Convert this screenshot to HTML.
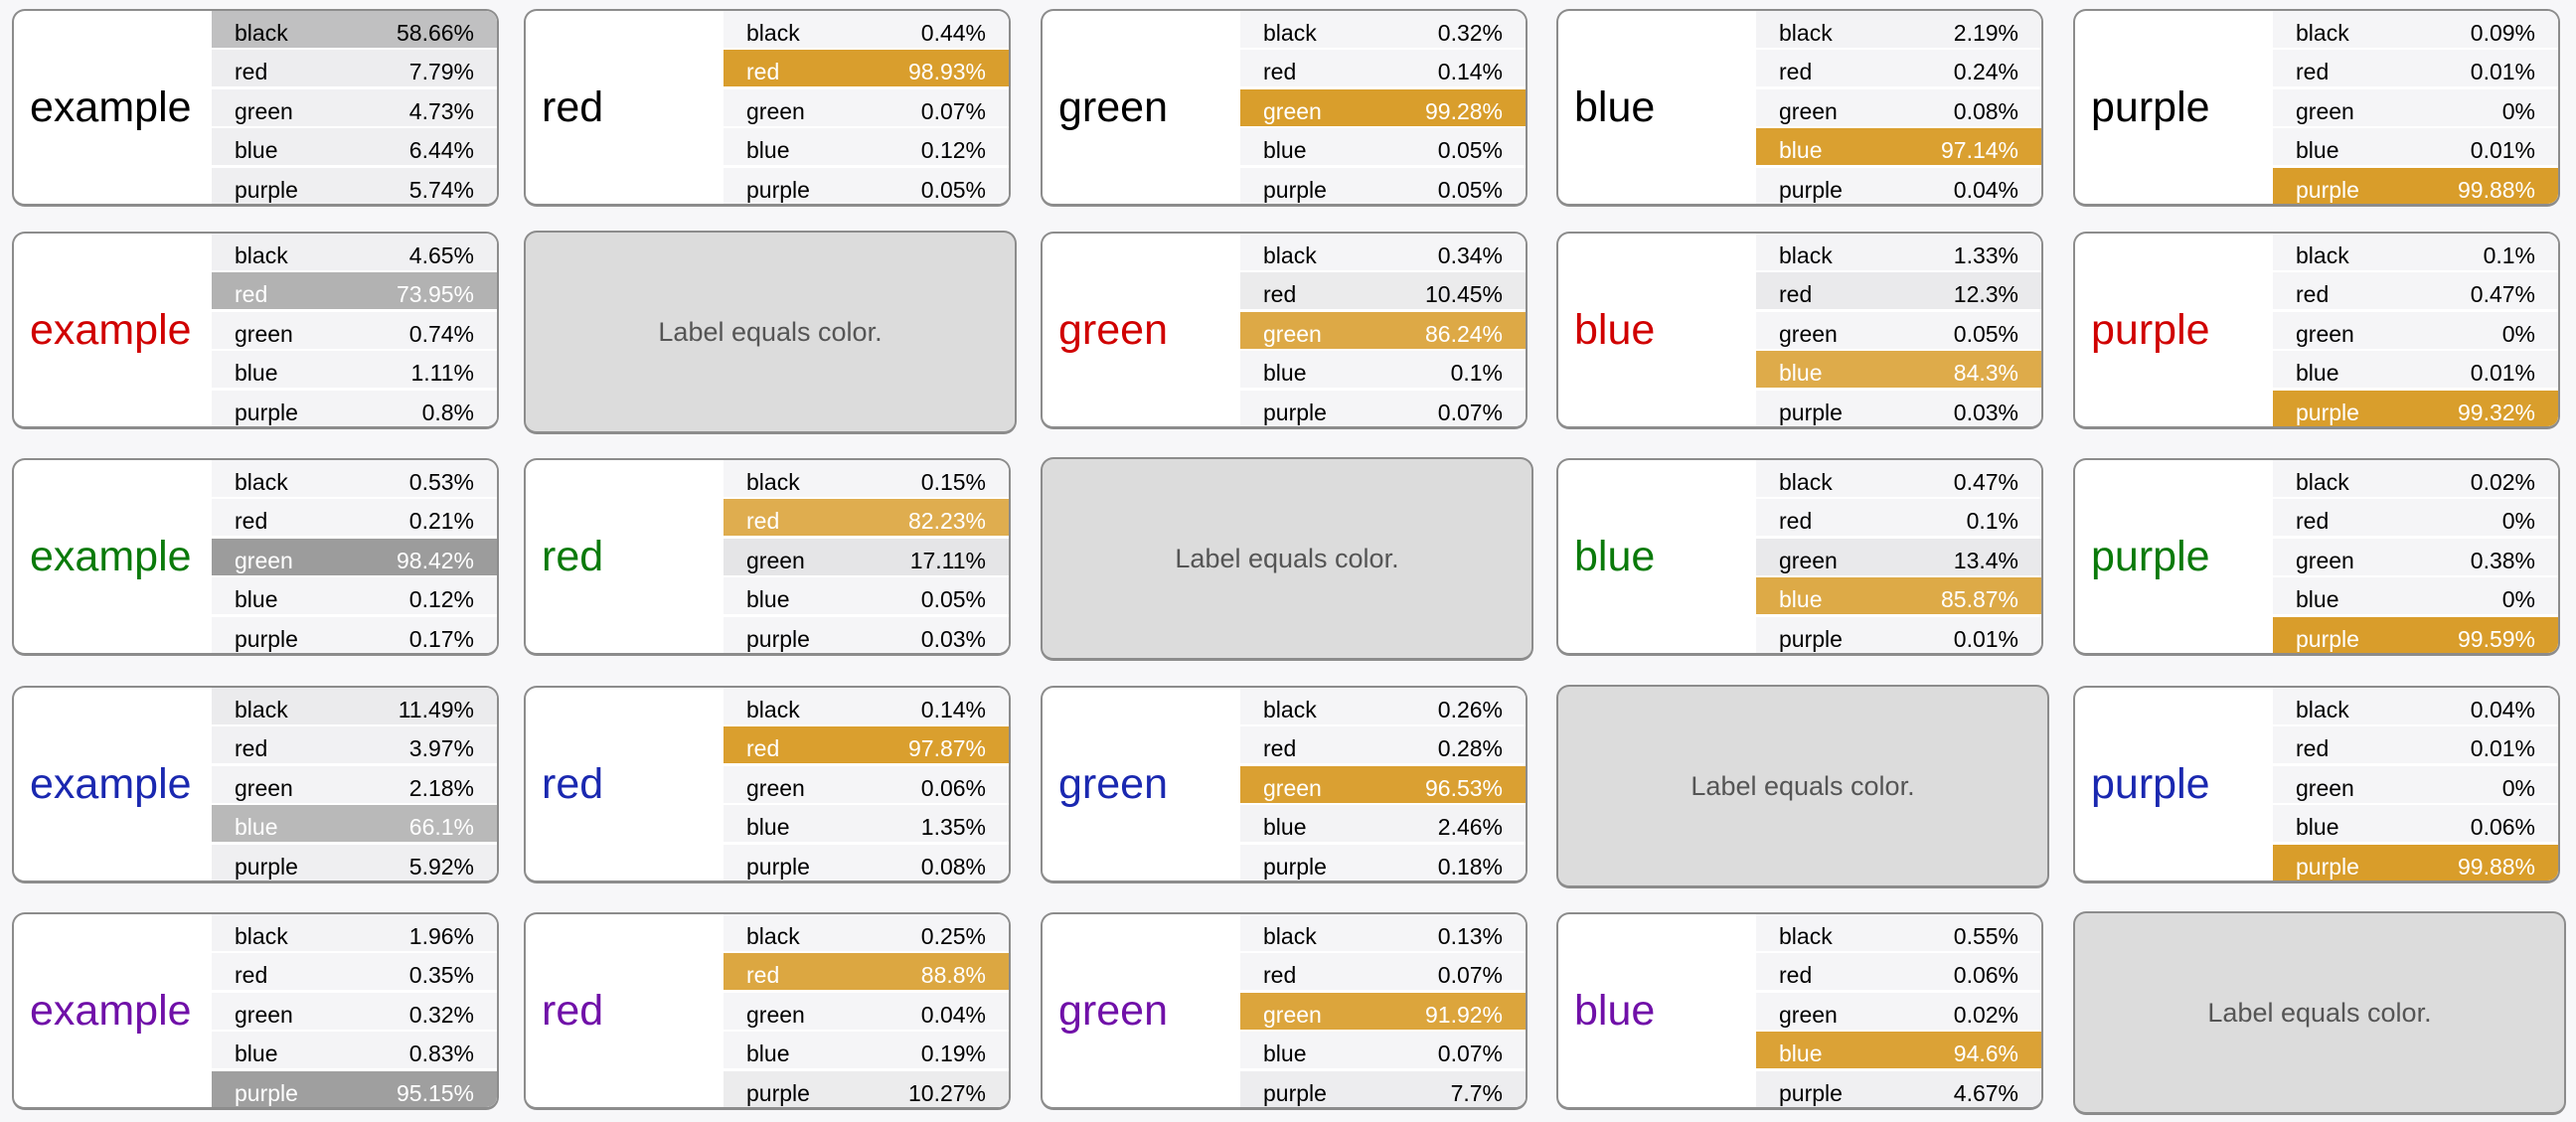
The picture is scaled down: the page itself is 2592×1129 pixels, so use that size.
<!DOCTYPE html>
<html><head><meta charset="utf-8"><style>
html,body{margin:0;padding:0;}
body{width:2592px;height:1129px;background:#f7f7f9;position:relative;overflow:hidden;font-family:"Liberation Sans",sans-serif;}
.card{position:absolute;width:490px;height:199px;box-sizing:border-box;border:2px solid #8c8c8c;border-bottom-width:3px;border-radius:13px;background:#fff;overflow:hidden;}
.lab{position:absolute;left:0;top:0;width:199px;height:100%;display:flex;align-items:center;padding-left:16px;box-sizing:border-box;font-size:43px;}
.tbl{position:absolute;left:199px;top:0;right:0;bottom:0;background:#fff;}
.row{position:absolute;left:0;right:0;height:37px;background:#f5f5f7;font-size:23px;}
.row .bg{position:absolute;inset:0;}
.row .n{position:absolute;left:23px;top:9px;}
.row .v{position:absolute;right:23px;top:9px;}
.gray{position:absolute;width:496px;height:205px;box-sizing:border-box;border:2px solid #8c8c8c;border-bottom-width:3px;border-radius:13px;background:#dcdcdc;color:#555;font-size:27px;display:flex;align-items:center;justify-content:center;}
</style></head><body>
<script>
const labels = ["example","red","green","blue","purple"];
const classes = ["black","red","green","blue","purple"];
const rowColors = ["#000000","#d00000","#0a7a0a","#1a28b0","#7010a8"];
const row1 = [[58.66,7.79,4.73,6.44,5.74],[0.44,98.93,0.07,0.12,0.05],[0.32,0.14,99.28,0.05,0.05],[2.19,0.24,0.08,97.14,0.04],[0.09,0.01,0,0.01,99.88]];
const row2 = [[4.65,73.95,0.74,1.11,0.8],null,[0.34,10.45,86.24,0.1,0.07],[1.33,12.3,0.05,84.3,0.03],[0.1,0.47,0,0.01,99.32]];
const row3 = [[0.53,0.21,98.42,0.12,0.17],[0.15,82.23,17.11,0.05,0.03],null,[0.47,0.1,13.4,85.87,0.01],[0.02,0,0.38,0,99.59]];
const row4 = [[11.49,3.97,2.18,66.1,5.92],[0.14,97.87,0.06,1.35,0.08],[0.26,0.28,96.53,2.46,0.18],null,[0.04,0.01,0,0.06,99.88]];
const row5 = [[1.96,0.35,0.32,0.83,95.15],[0.25,88.8,0.04,0.19,10.27],[0.13,0.07,91.92,0.07,7.7],[0.55,0.06,0.02,94.6,4.67],null];
const grid = [row1,row2,row3,row4,row5];
const colX = [12,527,1047,1566,2086];
const rowY = [9,233,461,690,918];
grid.forEach((gr,r)=>{
  gr.forEach((vals,c)=>{
    if(!vals){
      const g=document.createElement('div');
      g.className='gray';
      
      
      g.style.left=colX[c]+'px';g.style.top=(rowY[r]-1)+'px';
      g.textContent='Label equals color.';
      document.body.appendChild(g);return;
    }
    const card=document.createElement('div');
    card.className='card';
    
    
    card.style.left=colX[c]+'px';card.style.top=rowY[r]+'px';
    const lab=document.createElement('div');
    lab.className='lab';
    
    
    lab.style.color=rowColors[r];
    lab.textContent=labels[c];
    card.appendChild(lab);
    const t=document.createElement('div');
    t.className='tbl';
    
    
    const mx=Math.max(...vals);
    vals.forEach((v,i)=>{
      const rw=document.createElement('div');
      rw.className='row';
      
      
      rw.style.top=(i*39.4)+'px';
      const bg=document.createElement('div');bg.className='bg';
      const isMax=v===mx;
      const gold=isMax&&c!==0;
      bg.style.background=gold?'#d99d2a':'#9a9a9a';
      bg.style.opacity=v/100;
      rw.appendChild(bg);
      const white=(gold&&v>50)||v>65;
      const n=document.createElement('span');n.className='n';n.textContent=classes[i];
      const vv=document.createElement('span');vv.className='v';vv.textContent=v+'%';
      n.style.color=vv.style.color=white?'#fff':'#000';
      rw.appendChild(n);rw.appendChild(vv);
      t.appendChild(rw);
    });
    card.appendChild(t);
    document.body.appendChild(card);
  });
});
</script>
</body></html>
